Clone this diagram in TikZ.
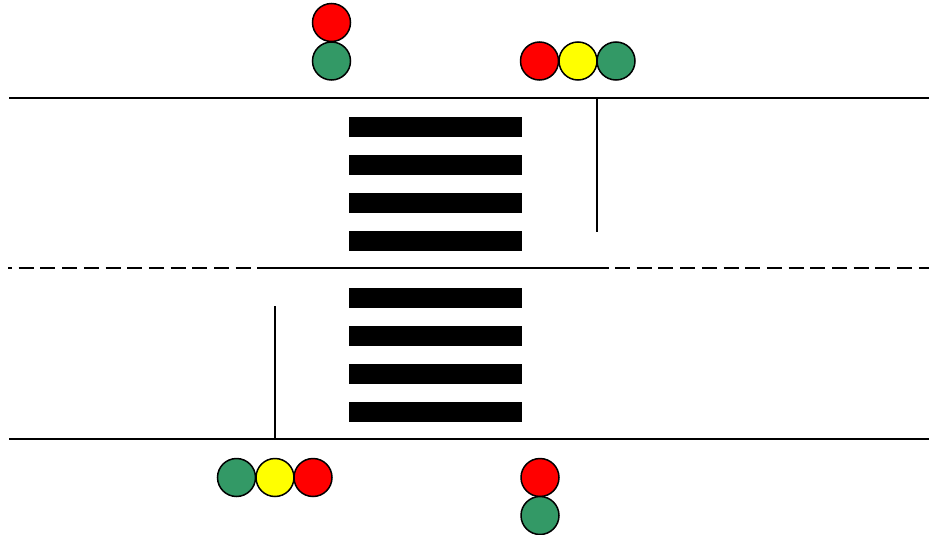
\documentclass[tikz,border=0pt]{standalone}
\definecolor{lred}{HTML}{FF0000}
\definecolor{lyel}{HTML}{FFFF00}
\definecolor{lgrn}{HTML}{339966}
\begin{document}
\begin{tikzpicture}[x=1pt,y=-1pt,
  lamp/.style={circle,draw=black,line width=1.5pt,minimum size=38pt,inner sep=0pt},
  roadline/.style={line width=2pt},
  centreline/.style={line width=2pt,dash pattern=on 15pt off 6.7pt},
  stopline/.style={line width=1.8pt},
  bar/.style={rectangle,fill=black,minimum width=173pt,minimum height=20pt,inner sep=0pt}]
\useasboundingbox (0,0) rectangle (929,535);
% road edges
\coordinate (tl) at (9,98); \coordinate (tr) at (929,98);
\coordinate (bl) at (9,439); \coordinate (br) at (929,439);
\draw[roadline] (tl) -- (tr);
\draw[roadline] (bl) -- (br);
% centre line
\coordinate (cl) at (8,268); \coordinate (c1) at (260,268);
\coordinate (c2) at (608,268); \coordinate (cr) at (929,268);
\draw[centreline,dash phase=11pt] (cl) -- (c1);
\draw[roadline] (c1) -- (c2);
\draw[centreline,dash phase=-7pt] (c2) -- (cr);
% stop lines
\coordinate (s1t) at (597,98); \coordinate (s1b) at (597,232);
\coordinate (s2t) at (275,306); \coordinate (s2b) at (275,439);
\draw[stopline] (s1t) -- (s1b);
\draw[stopline] (s2t) -- (s2b);
% crosswalk
\foreach \y [count=\i] in {127,165,203,241,298,336,374,412}
  \node[bar] (bar\i) at (435.5,\y) {};
% pedestrian light top
\node[lamp,fill=lred] (pt1) at (331.5,22.5) {};
\node[lamp,fill=lgrn] (pt2) at (331.5,61) {};
% vehicle light top
\node[lamp,fill=lred] (vt1) at (539.5,61) {};
\node[lamp,fill=lyel] (vt2) at (578,61) {};
\node[lamp,fill=lgrn] (vt3) at (616,61) {};
% vehicle light bottom
\node[lamp,fill=lgrn] (vb1) at (236.5,477.5) {};
\node[lamp,fill=lyel] (vb2) at (275,477.5) {};
\node[lamp,fill=lred] (vb3) at (313,477.5) {};
% pedestrian light bottom
\node[lamp,fill=lred] (pb1) at (540,477.5) {};
\node[lamp,fill=lgrn] (pb2) at (540,515.5) {};
\end{tikzpicture}
\end{document}
